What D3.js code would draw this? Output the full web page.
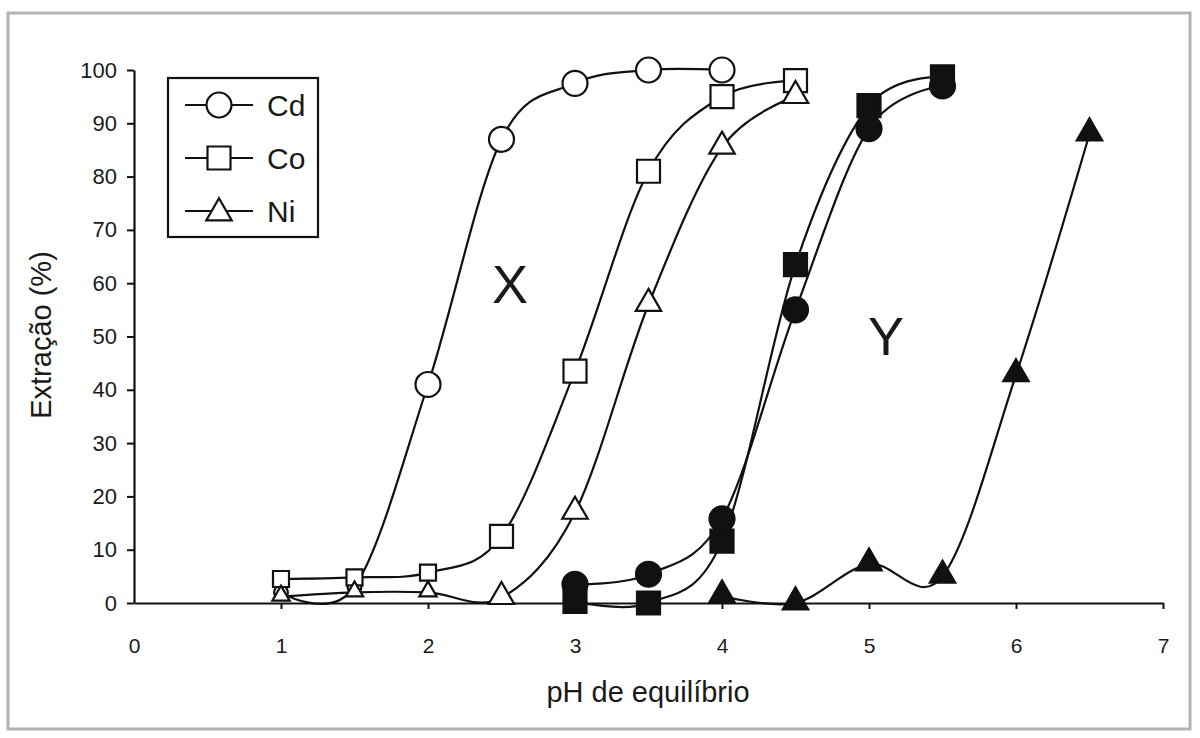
<!DOCTYPE html>
<html>
<head>
<meta charset="utf-8">
<script src="https://cdn.jsdelivr.net/npm/d3@7"></script>
<style>
  body { margin: 0; background: #fff; }
  text { font-family: Arial, "Liberation Sans", sans-serif; fill: #1a1a1a; }
</style>
</head>
<body>
<div id="chart"></div>
<script>
// Extraction (%) versus equilibrium pH
// X = open markers, Y = filled markers

var phCdX = [1, 1.5, 2, 2.5, 3, 3.5, 4];
var extCdX = [2, 3, 41, 87, 97.5, 100, 100];

var phCoX = [1, 1.5, 2, 2.5, 3, 3.5, 4, 4.5];
var extCoX = [4.5, 4.8, 5.7, 12.5, 43.5, 81, 95, 98];

var phNiX = [1, 1.5, 2, 2.5, 3, 3.5, 4, 4.5];
var extNiX = [1.2, 2, 2, 1, 17, 56, 85.5, 95];

var phCdY = [3, 3.5, 4, 4.5, 5, 5.5];
var extCdY = [3.5, 5.4, 15.8, 55, 89, 97];

var phCoY = [3, 3.5, 4, 4.5, 5, 5.5];
var extCoY = [0.3, 0, 11.6, 63.5, 93.3, 98.7];

var phNiY = [4, 4.5, 5, 5.5, 6, 6.5];
var extNiY = [1.3, 0, 7.3, 5, 42.8, 88];

var xTicks = [0, 1, 2, 3, 4, 5, 6, 7];
var yTicks = [0, 10, 20, 30, 40, 50, 60, 70, 80, 90, 100];
var legendNames = ["Cd", "Co", "Ni"];

var svgWidth = 1200;
var svgHeight = 738;

var svg = d3.select("#chart")
  .append("svg")
  .attr("width", svgWidth)
  .attr("height", svgHeight);

// outer frame
svg.append("rect")
  .attr("x", 8)
  .attr("y", 13)
  .attr("width", 1182)
  .attr("height", 716)
  .attr("fill", "none")
  .attr("stroke", "#b3b3b3")
  .attr("stroke-width", 3);

var xScale = d3.scaleLinear().domain([0, 7]).range([134, 1163]);
var yScale = d3.scaleLinear().domain([0, 100]).range([603, 70]);

// axes
var leftAxis = d3.axisLeft(yScale)
  .tickValues(yTicks)
  .tickFormat(d3.format("d"))
  .tickSize(7)
  .tickSizeOuter(0)
  .tickPadding(10);

var bottomAxis = d3.axisBottom(xScale)
  .tickValues(xTicks)
  .tickFormat(d3.format("d"))
  .tickSize(6)
  .tickSizeOuter(0)
  .tickPadding(29);

var yAxisG = svg.append("g")
  .attr("transform", "translate(134,0)")
  .call(leftAxis);

var xAxisG = svg.append("g")
  .attr("transform", "translate(0,603)")
  .call(bottomAxis);

[yAxisG, xAxisG].forEach(function(g) {
  g.select(".domain").attr("stroke", "#111").attr("stroke-width", 2.2);
  g.selectAll(".tick line").attr("stroke", "#111").attr("stroke-width", 2);
  g.selectAll(".tick text")
    .attr("font-family", "Arial, 'Liberation Sans', sans-serif")
    .attr("fill", "#1a1a1a");
});
yAxisG.selectAll(".tick text").attr("font-size", 22);
xAxisG.selectAll(".tick text").attr("font-size", 21);
xAxisG.selectAll(".tick").filter(function(d) { return d === 0; }).select("line").remove();

// series
var series = [
  { ph: phCdX, ext: extCdX, shape: d3.symbolCircle, filled: false, smallBelow: 2 },
  { ph: phCoX, ext: extCoX, shape: d3.symbolSquare, filled: false, smallBelow: 2.5 },
  { ph: phNiX, ext: extNiX, shape: d3.symbolTriangle, filled: false, smallBelow: 2.5 },
  { ph: phCdY, ext: extCdY, shape: d3.symbolCircle, filled: true, smallBelow: 0 },
  { ph: phCoY, ext: extCoY, shape: d3.symbolSquare, filled: true, smallBelow: 0 },
  { ph: phNiY, ext: extNiY, shape: d3.symbolTriangle, filled: true, smallBelow: 0 }
];

function symbolSize(shape, small) {
  if (shape === d3.symbolCircle) return small ? 150 : 490;
  if (shape === d3.symbolSquare) return small ? 256 : 529;
  return small ? 130 : 280;
}

var line = d3.line()
  .x(function(d) { return xScale(d[0]); })
  .y(function(d) { return yScale(d[1]); })
  .curve(d3.curveCardinal.tension(0));

series.forEach(function(s) {
  var pts = s.ph.map(function(p, i) { return [p, s.ext[i]]; });
  var g = svg.append("g");

  g.append("path")
    .datum(pts)
    .attr("d", line)
    .attr("fill", "none")
    .attr("stroke", "#111")
    .attr("stroke-width", 2.2);

  g.selectAll("path.marker")
    .data(pts)
    .enter()
    .append("path")
    .attr("class", "marker")
    .attr("transform", function(d) {
      var dy = s.shape === d3.symbolTriangle ? -1 : 0;
      return "translate(" + xScale(d[0]) + "," + (yScale(d[1]) + dy) + ")";
    })
    .attr("d", function(d) {
      return d3.symbol().type(s.shape).size(symbolSize(s.shape, d[0] < s.smallBelow))();
    })
    .attr("fill", s.filled ? "#111" : "#fff")
    .attr("stroke", "#111")
    .attr("stroke-width", 2.2);
});

// legend
var legend = svg.append("g");
legend.append("rect")
  .attr("x", 168)
  .attr("y", 78)
  .attr("width", 150)
  .attr("height", 159)
  .attr("fill", "#fff")
  .attr("stroke", "#111")
  .attr("stroke-width", 2.2);

var legendShapes = [d3.symbolCircle, d3.symbolSquare, d3.symbolTriangle];
var legendY = d3.scalePoint().domain(legendNames).range([105, 211]);

legendNames.forEach(function(name, i) {
  var ly = legendY(name);
  legend.append("line")
    .attr("x1", 185).attr("x2", 253)
    .attr("y1", ly).attr("y2", ly)
    .attr("stroke", "#111")
    .attr("stroke-width", 2.2);
  legend.append("path")
    .attr("transform", "translate(219," + (ly + (i === 2 ? 2 : 0)) + ")")
    .attr("d", d3.symbol().type(legendShapes[i]).size(symbolSize(legendShapes[i], false))())
    .attr("fill", "#fff")
    .attr("stroke", "#111")
    .attr("stroke-width", 2.2);
  legend.append("text")
    .attr("x", 267)
    .attr("y", ly)
    .attr("dy", "0.36em")
    .attr("font-size", 30)
    .text(name);
});

// group labels
svg.append("text")
  .attr("x", 510)
  .attr("y", 303)
  .attr("text-anchor", "middle")
  .attr("font-size", 54)
  .text("X");

svg.append("text")
  .attr("x", 886)
  .attr("y", 355)
  .attr("text-anchor", "middle")
  .attr("font-size", 54)
  .text("Y");

// axis titles
svg.append("text")
  .attr("transform", "translate(51,335) rotate(-90)")
  .attr("text-anchor", "middle")
  .attr("font-size", 29)
  .text("Extração (%)");

svg.append("text")
  .attr("x", 648)
  .attr("y", 702)
  .attr("text-anchor", "middle")
  .attr("font-size", 29)
  .text("pH de equilíbrio");
</script>
</body>
</html>
